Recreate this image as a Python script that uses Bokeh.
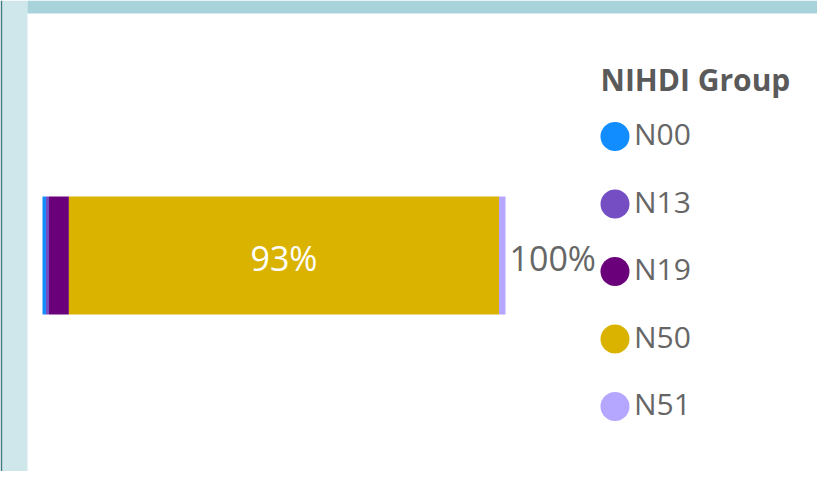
from bokeh.plotting import figure
from bokeh.models import ColumnDataSource, Range1d, BoxAnnotation, Label
from bokeh.core.properties import value
from bokeh.embed import file_html
from bokeh.resources import INLINE

# ---- data ----
groups = ["N00", "N13", "N19", "N50", "N51"]
shares = [0.0075, 0.0065, 0.043, 0.929, 0.014]
colors = ["#118DFF", "#744EC2", "#6B007B", "#D9B300", "#B5A6FF"]
legend_title = "NIHDI Group"

W, H = 817, 471
FONT = "Open Sans"

p = figure(width=W, height=H, output_backend="svg", toolbar_location=None,
           x_range=Range1d(-42 / 463, (W - 42) / 463),
           y_range=Range1d(-(H - 255) / 118, 255 / 118),
           min_border=0, outline_line_color=None,
           background_fill_color="white", border_fill_color="white")
p.xaxis.visible = False
p.yaxis.visible = False
p.grid.visible = False

# decorations (page frame)
p.add_layout(BoxAnnotation(left=0, right=2, left_units="screen", right_units="screen",
                           fill_color="#3E7C83", fill_alpha=1, line_color=None, level="underlay"))
p.add_layout(BoxAnnotation(left=2, right=27, left_units="screen", right_units="screen",
                           fill_color="#CFE6EA", fill_alpha=1, line_color=None, level="underlay"))
p.add_layout(BoxAnnotation(left=27, top=H, bottom=H - 13, left_units="screen", top_units="screen",
                           bottom_units="screen",
                           fill_color="#A8D3DA", fill_alpha=1, line_color=None, level="underlay"))

# stacked bar
data = {"y": [0]}
for g, s in zip(groups, shares):
    data[g] = [s]
src = ColumnDataSource(data)
p.hbar_stack(groups, y="y", height=1.0, color=colors, source=src, line_color=None)

# data labels for segments that fit
lefts, rights = [], []
acc = 0.0
for s in shares:
    lefts.append(acc)
    acc += s
    rights.append(acc)
lab_x = [(l + r) / 2 for l, r, s in zip(lefts, rights, shares) if s >= 0.1]
lab_t = [f"{round(s * 100)}%" for s in shares if s >= 0.1]
p.text(x=lab_x, y=[0] * len(lab_x), text=lab_t, text_color="white",
       text_font=value(FONT), text_font_size="34px", text_align="center",
       text_baseline="alphabetic", y_offset=2)

# total label
total = sum(shares)
p.text(x=[total], y=[0], text=[f"{round(total * 100)}%"], text_color="#666666",
       text_font=value(FONT), text_font_size="34px", text_align="left",
       text_baseline="alphabetic", x_offset=4, y_offset=2)

# legend (drawn on its own ranges)
p.extra_x_ranges = {"legx": Range1d(-614.5 / 100, (W - 614.5) / 100)}
p.extra_y_ranges = {"legy": Range1d((H - 136) / 67.5, -136 / 67.5)}
idx = list(range(len(groups)))
p.scatter(x=[0] * len(groups), y=idx, size=29, marker="circle", color=colors,
          line_color=None, x_range_name="legx", y_range_name="legy")
p.text(x=[0] * len(groups), y=idx, text=groups, text_color="#666666",
       text_font=value(FONT), text_font_size="30px", text_align="left",
       text_baseline="alphabetic", x_offset=19, y_offset=-3,
       x_range_name="legx", y_range_name="legy")

p.add_layout(Label(x=600, y=H - 92 + 13, x_units="screen", y_units="screen", text=legend_title,
                   text_font=FONT, text_font_size="30px", text_font_style="bold",
                   text_color="#5A5A5A", text_align="left", text_baseline="alphabetic"))

open("out.html", "w").write(file_html(p, INLINE))
